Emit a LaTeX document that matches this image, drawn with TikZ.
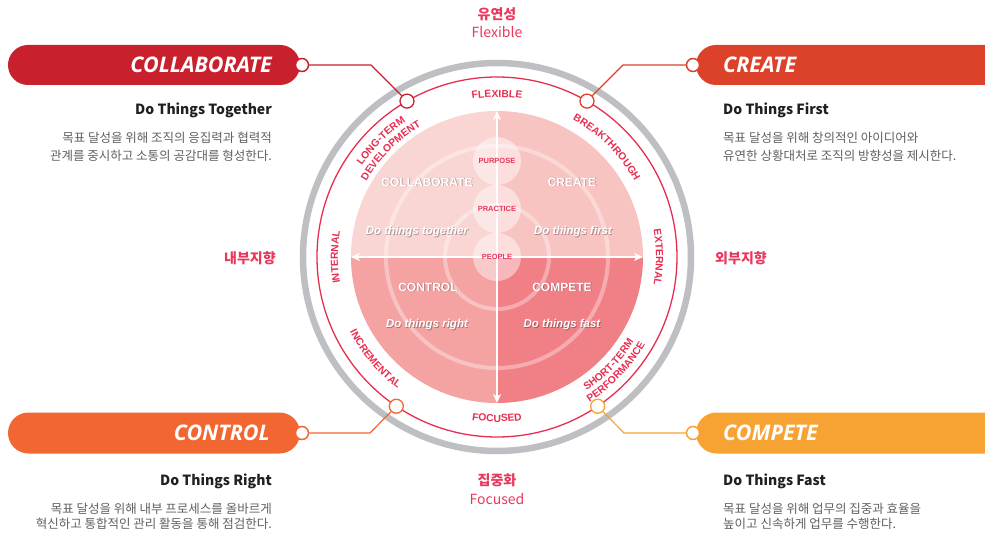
\documentclass[tikz,border=0pt]{standalone}
\usepackage{fontspec}
\usepackage{tikz}
\usetikzlibrary{arrows.meta,decorations.text,shapes.misc}
\newfontfamily\krfont{Noto Sans CJK KR}
\newfontfamily\lsfont{Liberation Sans}
\newfontfamily\osfont{Open Sans}
\definecolor{ringred}{RGB}{230,45,80}
\definecolor{labred}{RGB}{234,55,92}
\definecolor{ringgray}{RGB}{190,191,194}
\definecolor{qtl}{RGB}{249,214,211}
\definecolor{qtr}{RGB}{248,196,194}
\definecolor{qbl}{RGB}{244,162,162}
\definecolor{qbr}{RGB}{240,127,134}
\definecolor{colcol}{RGB}{200,33,45}
\definecolor{crecol}{RGB}{220,66,42}
\definecolor{concol}{RGB}{242,102,50}
\definecolor{compcol}{RGB}{247,163,52}
\definecolor{darktxt}{RGB}{35,31,32}
\definecolor{desctxt}{RGB}{95,96,100}
\newcommand{\ringfont}{\lsfont\bfseries\fontsize{10.3}{11}\selectfont}
% radius, start angle, end angle, text
\newcommand{\ringtext}[4]{%
  \path[decorate,decoration={text along path,text align=center,
    text={|\ringfont\color{ringred}|#4}}]
    (#2:#1) arc[start angle=#2,end angle=#3,radius=#1];}

\begin{document}
\begin{tikzpicture}[x=1pt,y=1pt,
  pill/.style={rounded rectangle,minimum width=292,minimum height=40,inner sep=0pt},
  ptitle/.style={font=\osfont\bfseries\itshape\fontsize{21.5}{24}\selectfont,text=white,inner sep=0pt},
  subttl/.style={font=\krfont\bfseries\fontsize{14}{16}\selectfont,text=darktxt,inner sep=0pt},
  desc/.style={font=\krfont\fontsize{12.5}{14}\selectfont,text=desctxt,inner sep=0pt},
  endcirc/.style={circle,draw,fill=white,line width=1.5,minimum size=13,inner sep=0pt},
  ringdot/.style={circle,draw,fill=white,line width=1.3,minimum size=14,inner sep=0pt},
  qlab/.style={font=\lsfont\bfseries\fontsize{12}{12}\selectfont,text=white,inner sep=0pt},
  qsub/.style={font=\lsfont\bfseries\itshape\fontsize{11.5}{12}\selectfont,text=white,inner sep=0pt},
  core/.style={circle,fill=white,fill opacity=.45,minimum size=48,inner sep=0pt},
  corelab/.style={font=\lsfont\bfseries\fontsize{7.5}{8}\selectfont,text=labred,inner sep=0pt},
  axlab/.style={font=\krfont\fontsize{14}{16}\selectfont,text=labred,inner sep=0pt}]
\useasboundingbox (-497,-281) rectangle (488,257);
\clip (-497,-281) rectangle (488,257);
% outer rings
\draw[ringgray,line width=6.5] (0,0) circle (194);
\draw[ringred,line width=1.3] (0,0) circle (180);
% quadrants
\fill[qtr] (0,0) -- (146,0) arc[start angle=0,end angle=90,radius=146] -- cycle;
\fill[qtl] (0,0) -- (0,146) arc[start angle=90,end angle=180,radius=146] -- cycle;
\fill[qbl] (0,0) -- (-146,0) arc[start angle=180,end angle=270,radius=146] -- cycle;
\fill[qbr] (0,0) -- (0,-146) arc[start angle=270,end angle=360,radius=146] -- cycle;
% inner white rings
\draw[white,opacity=.35,line width=4] (0,0) circle (111);
\draw[white,opacity=.35,line width=4] (0,0) circle (52);
% core circles
\node[core] (purpose) at (0,96) {};
\node[core] (practice) at (0,48) {};
\node[core] (people) at (0,0) {};
% axes
\draw[white,line width=1.2,{Stealth[length=9pt,width=8pt,inset=2.5pt]}-{Stealth[length=9pt,width=8pt,inset=2.5pt]}] (0,-146) -- (0,146);
\draw[white,line width=1.2,{Stealth[length=9pt,width=8pt,inset=2.5pt]}-{Stealth[length=9pt,width=8pt,inset=2.5pt]}] (-146,0) -- (146,0);
\node[corelab] (purposelab) at (purpose) {PURPOSE};
\node[corelab] (practicelab) at (practice) {PRACTICE};
\node[corelab] (peoplelab) at (people) {PEOPLE};
% quadrant labels
\foreach \nm/\x/\y/\t in {qcol/-70/75/COLLABORATE,qcre/75/75/CREATE,qcon/-69/-30/CONTROL,qcomp/65/-30/COMPETE}{
  \node[qlab,text=black,opacity=.3] (\nm s) at (\x+0.8,\y-0.8) {\t};
  \node[qlab] (\nm) at (\x,\y) {\t};
}
\foreach \nm/\x/\y/\t in {dcol/-80/25/Do things together,dcre/76/25/Do things first,dcon/-70/-68/Do things right,dcomp/65/-68/Do things fast}{
  \node[qsub,text=black,opacity=.3] (\nm s) at (\x+0.8,\y-0.8) {\t};
  \node[qsub] (\nm) at (\x,\y) {\t};
}
% ring texts
\ringtext{160}{125}{55}{FLEXIBLE}
\ringtext{157}{82}{8}{BREAKTHROUGH}
\ringtext{163}{172}{98}{LONG-TERM}
\ringtext{151}{174}{96}{DEVELOPMENT}
\ringtext{159}{215}{145}{INTERNAL}
\ringtext{159}{35}{-35}{EXTERNAL}
\ringtext{165}{235}{305}{FOCUSED}
\ringtext{165}{181}{259}{INCREMENTAL}
\ringtext{161}{-82}{-6}{SHORT-TERM}
\ringtext{172}{-82}{-6}{PERFORMANCE}
% axis labels
\node[axlab,font=\krfont\bfseries\fontsize{14}{16}\selectfont] (flexkr) at (0,243) {유연성};
\node[axlab] (flexen) at (0,225) {Flexible};
\node[axlab,font=\krfont\bfseries\fontsize{14}{16}\selectfont] (focuskr) at (0,-223) {집중화};
\node[axlab] (focusen) at (0,-242) {Focused};
\node[axlab,font=\krfont\bfseries\fontsize{14}{16}\selectfont] (internkr) at (-247,-1) {내부지향};
\node[axlab,font=\krfont\bfseries\fontsize{14}{16}\selectfont] (externkr) at (244,-1) {외부지향};
% pills
\node[pill,fill=colcol] (pcol) at (-343,192) {};
\node[pill,fill=crecol,minimum width=320] (pcre) at (359,192) {};
\node[pill,fill=concol,minimum height=41] (pcon) at (-343,-176) {};
\node[pill,fill=compcol,minimum width=320,minimum height=41] (pcomp) at (359,-176) {};
\node[ptitle,anchor=east] (tcol) at (-225,192) {COLLABORATE};
\node[ptitle,anchor=west] (tcre) at (226,192) {CREATE};
\node[ptitle,anchor=east] (tcon) at (-227,-176) {CONTROL};
\node[ptitle,anchor=west] (tcomp) at (226,-176) {COMPETE};
% connectors
\node[endcirc,draw=colcol] (ecol) at (-195,192) {};
\node[endcirc,draw=crecol] (ecre) at (196,192) {};
\node[endcirc,draw=concol] (econ) at (-195,-176) {};
\node[endcirc,draw=compcol] (ecomp) at (196,-176) {};
\coordinate (bcol) at (-126,192);
\coordinate (bcre) at (126,192);
\coordinate (bcon) at (-127,-176);
\coordinate (bcomp) at (127,-176);
\node[ringdot,draw=colcol] (rcol) at (120:180) {};
\node[ringdot,draw=crecol] (rcre) at (60:180) {};
\node[ringdot,draw=concol] (rcon) at (236:180) {};
\node[ringdot,draw=compcol] (rcomp) at (-56:180) {};
\draw[colcol,line width=1.2] (ecol) -- (bcol) -- (rcol);
\draw[crecol,line width=1.2] (ecre) -- (bcre) -- (rcre);
\draw[concol,line width=1.2] (econ) -- (bcon) -- (rcon);
\draw[compcol,line width=1.2] (ecomp) -- (bcomp) -- (rcomp);
% descriptions
\node[subttl,anchor=base east] (scol) at (-225,142) {Do Things Together};
\node[desc,anchor=base east] (kcol1) at (-225,114) {목표 달성을 위해 조직의 응집력과 협력적};
\node[desc,anchor=base east] (kcol2) at (-225,96) {관계를 중시하고 소통의 공감대를 형성한다.};
\node[subttl,anchor=base west] (scre) at (226,142) {Do Things First};
\node[desc,anchor=base west] (kcre1) at (226,114) {목표 달성을 위해 창의적인 아이디어와};
\node[desc,anchor=base west] (kcre2) at (226,96) {유연한 상황대처로 조직의 방향성을 제시한다.};
\node[subttl,anchor=base east] (scon) at (-225,-228) {Do Things Right};
\node[desc,anchor=base east] (kcon1) at (-225,-256) {목표 달성을 위해 내부 프로세스를 올바르게};
\node[desc,anchor=base east] (kcon2) at (-225,-271) {혁신하고 통합적인 관리 활동을 통해 점검한다.};
\node[subttl,anchor=base west] (scomp) at (226,-228) {Do Things Fast};
\node[desc,anchor=base west] (kcomp1) at (226,-256) {목표 달성을 위해 업무의 집중과 효율을};
\node[desc,anchor=base west] (kcomp2) at (226,-271) {높이고 신속하게 업무를 수행한다.};
\end{tikzpicture}
\end{document}
